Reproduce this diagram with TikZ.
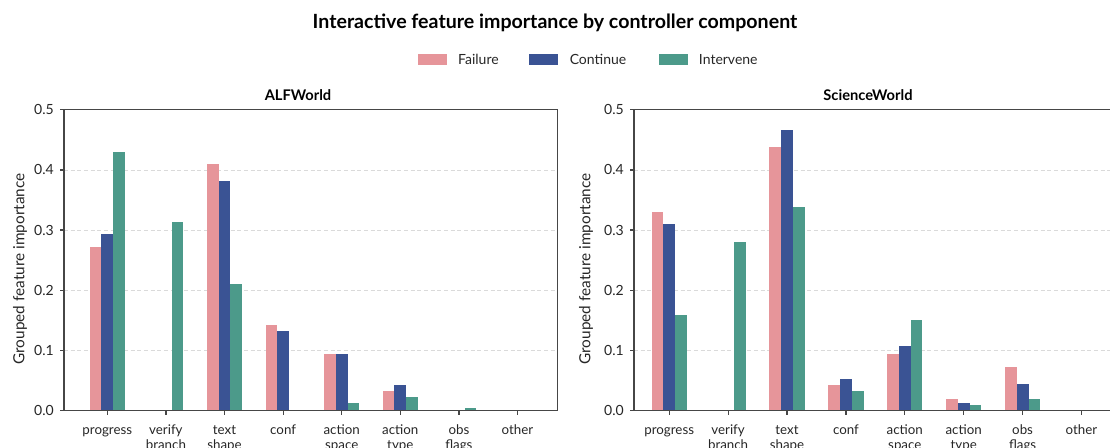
\documentclass[tikz,border=0pt]{standalone}
\usepackage{fontspec}
\setmainfont{Lato}
\usepackage{tikz}
\usetikzlibrary{positioning}
\definecolor{failure}{RGB}{230,149,154}
\definecolor{continue}{RGB}{58,83,148}
\definecolor{intervene}{RGB}{76,154,138}
\definecolor{axe}{RGB}{70,70,70}
\definecolor{gris}{RGB}{218,218,218}

\begin{document}
\begin{tikzpicture}[x=0.75pt,y=0.75pt,
    cadre/.style={draw=axe,line width=0.9pt},
    grille/.style={draw=gris,line width=0.6pt,dash pattern=on 3pt off 2pt},
    ytick/.style={anchor=east,inner sep=0pt,xshift=-7.5pt,font=\fontsize{10.5}{12}\selectfont,text=black!85},
    etiq/.style={anchor=north,inner sep=0pt,align=center,yshift=-10pt,font=\fontsize{10}{11.2}\selectfont,text=black!85},
    patch/.style={minimum width=21.75pt,minimum height=7.8pt,inner sep=0pt},
    legende/.style={inner sep=0pt,font=\fontsize{10.5}{12}\selectfont,text=black!85}]
    \useasboundingbox (0,0) rectangle (1110,447);
    \clip (0,0) rectangle (1110,447);

    % Titre
    \node[anchor=base,font=\fontsize{14.7}{17}\bfseries] (titre) at (555,418.7) {Interactive feature importance by controller component};

    % Légende
    \node[patch,fill=failure] (pfail) at (432.2,387.5) {};
    \node[legende,right=8.2pt of pfail] (tfail) {Failure};
    \node[patch,fill=continue] (pcont) at (543.8,387.5) {};
    \node[legende,right=8.2pt of pcont] (tcont) {Continue};
    \node[patch,fill=intervene] (pint) at (673,387.5) {};
    \node[legende,right=8.2pt of pint] (tint) {Intervene};

    % Panneau ALFWorld
    \node[anchor=base,font=\fontsize{11}{13}\bfseries] (alf) at (298,346) {ALFWorld};
    \node[rotate=90,font=\fontsize{11.5}{13}\selectfont,text=black!85] (alf-ylab) at (20,178) {Grouped feature importance};
    \begin{scope}[shift={(107.3,36.3)},x=43.95pt,y=451.5pt]
        % Grille
        \draw[grille] (-0.739,0.1) -- (7.686,0.1);
        \draw[grille] (-0.739,0.2) -- (7.686,0.2);
        \draw[grille] (-0.739,0.3) -- (7.686,0.3);
        \draw[grille] (-0.739,0.4) -- (7.686,0.4);
        % Barres
        \fill[failure] (-0.3,0) rectangle (-0.1,0.272); \fill[continue] (-0.1,0) rectangle (0.1,0.294); \fill[intervene] (0.1,0) rectangle (0.3,0.429);
        \fill[intervene] (1.1,0) rectangle (1.3,0.313);
        \fill[failure] (1.7,0) rectangle (1.9,0.409); \fill[continue] (1.9,0) rectangle (2.1,0.382); \fill[intervene] (2.1,0) rectangle (2.3,0.211);
        \fill[failure] (2.7,0) rectangle (2.9,0.143); \fill[continue] (2.9,0) rectangle (3.1,0.133);
        \fill[failure] (3.7,0) rectangle (3.9,0.094); \fill[continue] (3.9,0) rectangle (4.1,0.094); \fill[intervene] (4.1,0) rectangle (4.3,0.012);
        \fill[failure] (4.7,0) rectangle (4.9,0.032); \fill[continue] (4.9,0) rectangle (5.1,0.043); \fill[intervene] (5.1,0) rectangle (5.3,0.023);
        \fill[intervene] (6.1,0) rectangle (6.3,0.004);
        % Cadre et graduations
        \draw[cadre] (-0.739,0) rectangle (7.686,0.5);
        \draw[cadre] (-0.739,0) -- ++(-3pt,0) (-0.739,0.1) -- ++(-3pt,0) (-0.739,0.2) -- ++(-3pt,0)
            (-0.739,0.3) -- ++(-3pt,0) (-0.739,0.4) -- ++(-3pt,0) (-0.739,0.5) -- ++(-3pt,0);
        \draw[cadre] (0,0) -- ++(0,-3pt) (1,0) -- ++(0,-3pt) (2,0) -- ++(0,-3pt) (3,0) -- ++(0,-3pt)
            (4,0) -- ++(0,-3pt) (5,0) -- ++(0,-3pt) (6,0) -- ++(0,-3pt) (7,0) -- ++(0,-3pt);
        % Labels
        \node[ytick] (alf-y0) at (-0.739,0) {0.0};
        \node[ytick] (alf-y1) at (-0.739,0.1) {0.1};
        \node[ytick] (alf-y2) at (-0.739,0.2) {0.2};
        \node[ytick] (alf-y3) at (-0.739,0.3) {0.3};
        \node[ytick] (alf-y4) at (-0.739,0.4) {0.4};
        \node[ytick] (alf-y5) at (-0.739,0.5) {0.5};
        \node[etiq] (alf-x0) at (0,0) {\strut progress};
        \node[etiq] (alf-x1) at (1,0) {\strut verify\\branch};
        \node[etiq] (alf-x2) at (2,0) {\strut text\\shape};
        \node[etiq] (alf-x3) at (3,0) {\strut conf};
        \node[etiq] (alf-x4) at (4,0) {\strut action\\space};
        \node[etiq] (alf-x5) at (5,0) {\strut action\\type};
        \node[etiq] (alf-x6) at (6,0) {\strut obs\\flags};
        \node[etiq] (alf-x7) at (7,0) {\strut other};
    \end{scope}

    % Panneau ScienceWorld
    \node[anchor=base,font=\fontsize{11}{13}\bfseries] (sci) at (868,346) {ScienceWorld};
    \node[rotate=90,font=\fontsize{11.5}{13}\selectfont,text=black!85] (sci-ylab) at (586,178) {Grouped feature importance};
    \begin{scope}[shift={(669.2,36.3)},x=44.175pt,y=451.5pt]
        % Grille
        \draw[grille] (-0.598,0.1) -- (7.9,0.1);
        \draw[grille] (-0.598,0.2) -- (7.9,0.2);
        \draw[grille] (-0.598,0.3) -- (7.9,0.3);
        \draw[grille] (-0.598,0.4) -- (7.9,0.4);
        % Barres
        \fill[failure] (-0.3,0) rectangle (-0.1,0.330); \fill[continue] (-0.1,0) rectangle (0.1,0.310); \fill[intervene] (0.1,0) rectangle (0.3,0.159);
        \fill[intervene] (1.1,0) rectangle (1.3,0.280);
        \fill[failure] (1.7,0) rectangle (1.9,0.438); \fill[continue] (1.9,0) rectangle (2.1,0.467); \fill[intervene] (2.1,0) rectangle (2.3,0.338);
        \fill[failure] (2.7,0) rectangle (2.9,0.043); \fill[continue] (2.9,0) rectangle (3.1,0.052); \fill[intervene] (3.1,0) rectangle (3.3,0.033);
        \fill[failure] (3.7,0) rectangle (3.9,0.095); \fill[continue] (3.9,0) rectangle (4.1,0.108); \fill[intervene] (4.1,0) rectangle (4.3,0.151);
        \fill[failure] (4.7,0) rectangle (4.9,0.019); \fill[continue] (4.9,0) rectangle (5.1,0.013); \fill[intervene] (5.1,0) rectangle (5.3,0.009);
        \fill[failure] (5.7,0) rectangle (5.9,0.072); \fill[continue] (5.9,0) rectangle (6.1,0.044); \fill[intervene] (6.1,0) rectangle (6.3,0.019);
        % Cadre et graduations
        \draw[cadre] (-0.598,0) rectangle (7.9,0.5);
        \draw[cadre] (-0.598,0) -- ++(-3pt,0) (-0.598,0.1) -- ++(-3pt,0) (-0.598,0.2) -- ++(-3pt,0)
            (-0.598,0.3) -- ++(-3pt,0) (-0.598,0.4) -- ++(-3pt,0) (-0.598,0.5) -- ++(-3pt,0);
        \draw[cadre] (0,0) -- ++(0,-3pt) (1,0) -- ++(0,-3pt) (2,0) -- ++(0,-3pt) (3,0) -- ++(0,-3pt)
            (4,0) -- ++(0,-3pt) (5,0) -- ++(0,-3pt) (6,0) -- ++(0,-3pt) (7,0) -- ++(0,-3pt);
        % Labels
        \node[ytick] (sci-y0) at (-0.598,0) {0.0};
        \node[ytick] (sci-y1) at (-0.598,0.1) {0.1};
        \node[ytick] (sci-y2) at (-0.598,0.2) {0.2};
        \node[ytick] (sci-y3) at (-0.598,0.3) {0.3};
        \node[ytick] (sci-y4) at (-0.598,0.4) {0.4};
        \node[ytick] (sci-y5) at (-0.598,0.5) {0.5};
        \node[etiq] (sci-x0) at (0,0) {\strut progress};
        \node[etiq] (sci-x1) at (1,0) {\strut verify\\branch};
        \node[etiq] (sci-x2) at (2,0) {\strut text\\shape};
        \node[etiq] (sci-x3) at (3,0) {\strut conf};
        \node[etiq] (sci-x4) at (4,0) {\strut action\\space};
        \node[etiq] (sci-x5) at (5,0) {\strut action\\type};
        \node[etiq] (sci-x6) at (6,0) {\strut obs\\flags};
        \node[etiq] (sci-x7) at (7,0) {\strut other};
    \end{scope}
\end{tikzpicture}
\end{document}
